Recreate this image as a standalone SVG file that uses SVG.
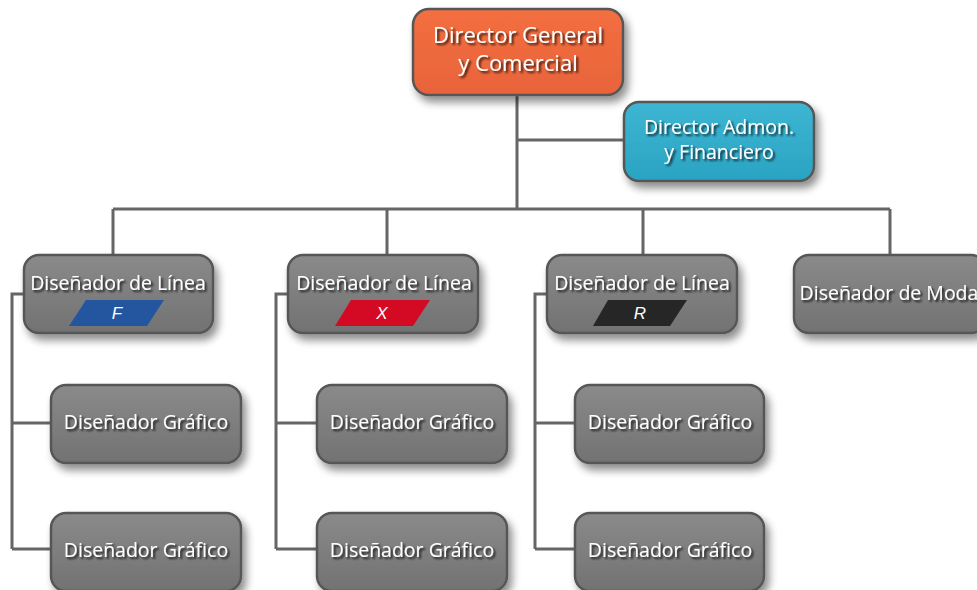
<svg xmlns="http://www.w3.org/2000/svg" width="977" height="590" viewBox="0 0 977 590">
<defs>
<linearGradient id="gGray" x1="0" y1="0" x2="0" y2="1">
<stop offset="0" stop-color="#8a8a8a"/><stop offset="1" stop-color="#727272"/>
</linearGradient>
<linearGradient id="gOrange" x1="0" y1="0" x2="0" y2="1">
<stop offset="0" stop-color="#f36f40"/><stop offset="1" stop-color="#e8633a"/>
</linearGradient>
<linearGradient id="gBlue" x1="0" y1="0" x2="0" y2="1">
<stop offset="0" stop-color="#3db6d3"/><stop offset="1" stop-color="#2aa3c2"/>
</linearGradient>
<filter id="sh" x="-20%" y="-20%" width="150%" height="160%">
<feGaussianBlur in="SourceAlpha" stdDeviation="4"/>
<feOffset dx="4" dy="6" result="b"/>
<feComponentTransfer><feFuncA type="linear" slope="0.45"/></feComponentTransfer>
<feMerge><feMergeNode/><feMergeNode in="SourceGraphic"/></feMerge>
</filter>
<filter id="ts" x="-10%" y="-30%" width="120%" height="170%">
<feGaussianBlur in="SourceAlpha" stdDeviation="1.2"/>
<feOffset dx="1.5" dy="1.5" result="b"/>
<feComponentTransfer><feFuncA type="linear" slope="0.8"/></feComponentTransfer>
<feMerge><feMergeNode/><feMergeNode in="SourceGraphic"/></feMerge>
</filter>
</defs>
<style>
.box{stroke:#575757;stroke-width:2.5;filter:url(#sh)}
.gray{fill:url(#gGray)}
.t{font-family:"Open Sans","Liberation Sans",sans-serif;fill:#ffffff;text-anchor:middle;filter:url(#ts)}
.m{font-size:19.5px}
.lk{font-family:"Liberation Sans",sans-serif;font-style:italic;fill:#ffffff;text-anchor:middle;font-size:17px}
.c{fill:none;stroke:#666666;stroke-width:3}
</style>
<rect width="977" height="590" fill="#ffffff"/>
<g id="connectors">
<path class="c" d="M517 95 V209 M517 140 H625 M113 209 H890 M113 209 V255 M387 209 V255 M643 209 V255 M890 209 V255"/>
<path class="c" d="M24 294 H12 V549 M12 423 H51 M12 549 H51"/>
<path class="c" d="M288 294 H276 V549 M276 423 H317 M276 549 H317"/>
<path class="c" d="M547 294 H535 V549 M535 423 H575 M535 549 H575"/>
</g>
<g id="director-general">
<rect class="box" x="413" y="9" width="210" height="86" rx="16" fill="url(#gOrange)"/>
<text class="t" x="518" y="43" font-size="22">Director General</text>
<text class="t" x="518" y="71" font-size="22">y Comercial</text>
</g>
<g id="director-admon">
<rect class="box" x="624" y="102" width="190" height="79" rx="15" fill="url(#gBlue)"/>
<text class="t" x="719" y="134" font-size="19.5">Director Admon.</text>
<text class="t" x="719" y="159" font-size="19.5">y Financiero</text>
</g>
<g id="linea-f">
<rect class="box gray" x="24" y="255" width="189" height="78" rx="15"/>
<text class="t m" x="118" y="290">Diseñador de Línea</text>
<polygon points="86,300 164,300 147,326 69,326" fill="#2456a0"/>
<text class="lk" x="117" y="319">F</text>
</g>
<g id="linea-x">
<rect class="box gray" x="288" y="255" width="190" height="78" rx="15"/>
<text class="t m" x="384" y="290">Diseñador de Línea</text>
<polygon points="351,300 430,300 413,326 335,326" fill="#d40a25"/>
<text class="lk" x="382" y="319">X</text>
</g>
<g id="linea-r">
<rect class="box gray" x="547" y="255" width="190" height="78" rx="15"/>
<text class="t m" x="642" y="290">Diseñador de Línea</text>
<polygon points="608,300 687,300 670,326 593,326" fill="#262626"/>
<text class="lk" x="640" y="319">R</text>
</g>
<g id="moda">
<rect class="box gray" x="794" y="255" width="192" height="78" rx="15"/>
<text class="t m" x="889" y="300">Diseñador de Moda</text>
</g>
<g id="grafico-1a">
<rect class="box gray" x="51" y="385" width="190" height="78" rx="15"/>
<text class="t m" x="146" y="429">Diseñador Gráfico</text>
</g>
<g id="grafico-1b">
<rect class="box gray" x="51" y="513" width="190" height="78" rx="15"/>
<text class="t m" x="146" y="557">Diseñador Gráfico</text>
</g>
<g id="grafico-2a">
<rect class="box gray" x="317" y="385" width="190" height="78" rx="15"/>
<text class="t m" x="412" y="429">Diseñador Gráfico</text>
</g>
<g id="grafico-2b">
<rect class="box gray" x="317" y="513" width="190" height="78" rx="15"/>
<text class="t m" x="412" y="557">Diseñador Gráfico</text>
</g>
<g id="grafico-3a">
<rect class="box gray" x="575" y="385" width="189" height="78" rx="15"/>
<text class="t m" x="670" y="429">Diseñador Gráfico</text>
</g>
<g id="grafico-3b">
<rect class="box gray" x="575" y="513" width="189" height="78" rx="15"/>
<text class="t m" x="670" y="557">Diseñador Gráfico</text>
</g>
</svg>
